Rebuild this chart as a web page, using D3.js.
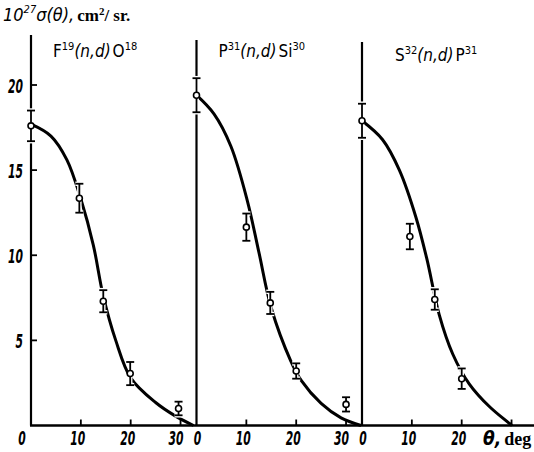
<!DOCTYPE html>
<meta charset="utf-8">
<head>
  <title>(n,d) angular distributions</title>
</head>
<style>
  body { margin: 0; background: #fff; }
  .num { font-family: "DejaVu Sans Condensed", "Liberation Sans", sans-serif; font-style: italic; font-weight: bold; font-size: 19px; }
  .lab { font-family: "DejaVu Sans Condensed", "Liberation Sans", sans-serif; font-size: 17px; }
  .serif { font-family: "Liberation Serif", "DejaVu Serif", serif; font-weight: bold; }
</style>
<body>
<script src="https://cdn.jsdelivr.net/npm/d3@7"></script>
<script>
var width = 534, height = 452;

// reactions (one panel each)
var targets = ["F", "P", "S"];
var targetMass = ["19", "31", "32"];
var products = ["O", "Si", "P"];
var productMass = ["18", "30", "31"];

// measured points: angle (deg), cross section (10^-27 cm^2/sr), error
var thetaF = [0, 9.7, 14.5, 19.9, 29.6];
var sigmaF = [17.6, 13.35, 7.3, 3.05, 1.0];
var errF = [0.9, 0.85, 0.65, 0.68, 0.4];

var thetaP = [0, 10, 14.8, 20, 30];
var sigmaP = [19.4, 11.65, 7.2, 3.2, 1.24];
var errP = [1.0, 0.8, 0.65, 0.45, 0.42];

var thetaS = [0, 9.6, 14.6, 20];
var sigmaS = [17.9, 11.1, 7.4, 2.75];
var errS = [1.0, 0.75, 0.6, 0.6];

// drawn curves
var curveThetaF = [0, 4, 7.2, 10, 12.5, 14.5, 17, 20, 25, 29, 32.6];
var curveSigmaF = [17.7, 17.0, 15.6, 13.3, 10.6, 7.6, 5.0, 2.8, 1.35, 0.55, 0];

var curveThetaP = [0, 3.5, 6.9, 10.2, 12.5, 15, 18.9, 21, 25, 29, 33];
var curveSigmaP = [19.4, 18.3, 16.4, 13.2, 10.2, 6.9, 3.8, 2.65, 1.3, 0.45, 0];

var curveThetaS = [0, 4.1, 7.5, 10.8, 13, 15.5, 18.2, 21.5, 25.6, 30.1];
var curveSigmaS = [17.9, 16.8, 15.0, 12.25, 9.8, 6.5, 4.2, 2.45, 1.1, 0];

// tick values
var yTicks = [5, 10, 15, 20];
var xTicks = [[10, 20, 30], [10, 20, 30], [10, 20, 30]];
var xTickLabels = [["0", "10", "20", "30"], ["0", "10", "20", "30"], ["0", "10", "20"]];

var points = [
  thetaF.map((t, i) => ({t: t, s: sigmaF[i], e: errF[i]})),
  thetaP.map((t, i) => ({t: t, s: sigmaP[i], e: errP[i]})),
  thetaS.map((t, i) => ({t: t, s: sigmaS[i], e: errS[i]}))
];
var curves = [
  curveThetaF.map((t, i) => [t, curveSigmaF[i]]),
  curveThetaP.map((t, i) => [t, curveSigmaP[i]]),
  curveThetaS.map((t, i) => [t, curveSigmaS[i]])
];

var left = 31, panelW = 165.5, base = 425.5;
var yScale = d3.scaleLinear().domain([0, 20]).range([base, 85]);

var svg = d3.select("body").append("svg")
    .attr("width", width)
    .attr("height", height);

// baseline across all panels
svg.append("line")
    .attr("x1", left - 1).attr("x2", width)
    .attr("y1", base).attr("y2", base)
    .attr("stroke", "#000").attr("stroke-width", 2.5);

var labelDx = [22, 22, 33];

targets.forEach(function(tg, k) {
  var ox = left + k * panelW;
  var x = d3.scaleLinear().domain([0, 33.2]).range([ox, ox + panelW]);
  var g = svg.append("g");

  // vertical axis
  g.append("line")
      .attr("x1", ox).attr("x2", ox)
      .attr("y1", k === 0 ? 35 : 38 + k * 2).attr("y2", base)
      .attr("stroke", "#000").attr("stroke-width", 2.2);

  // x ticks
  g.selectAll(".xt").data(xTicks[k]).enter().append("line")
      .attr("x1", d => x(d)).attr("x2", d => x(d))
      .attr("y1", base).attr("y2", base - 6)
      .attr("stroke", "#000").attr("stroke-width", 1.8);

  // x tick labels
  g.selectAll(".xl").data(xTickLabels[k]).enter().append("text")
      .attr("class", "num")
      .attr("text-anchor", "middle")
      .attr("x", (d, i) => i === 0 ? (k === 0 ? ox - 9 : ox + 1) : x(+d) - (d === "30" ? 4.5 : 3))
      .attr("y", 445)
      .attr("textLength", d => d.length * 7.5)
      .attr("lengthAdjust", "spacingAndGlyphs")
      .text(d => d);

  // curve
  g.append("path")
      .datum(curves[k])
      .attr("fill", "none")
      .attr("stroke", "#000")
      .attr("stroke-width", 3)
      .attr("d", d3.line().x(d => x(d[0])).y(d => yScale(d[1])).curve(d3.curveCatmullRom.alpha(0.5)));

  // error bars (white halo first, breaks the curve like the print)
  ["#fff", "#000"].forEach(function(col, pass) {
    var sw = pass === 0 ? 4.5 : 1.8;
    var eb = g.selectAll(".eb" + pass).data(points[k]).enter().append("g");
    eb.append("line")
        .attr("x1", d => x(d.t)).attr("x2", d => x(d.t))
        .attr("y1", d => yScale(d.s + d.e)).attr("y2", d => yScale(d.s - d.e))
        .attr("stroke", col).attr("stroke-width", sw);
    eb.append("line")
        .attr("x1", d => x(d.t) - 4).attr("x2", d => x(d.t) + 4)
        .attr("y1", d => yScale(d.s + d.e)).attr("y2", d => yScale(d.s + d.e))
        .attr("stroke", col).attr("stroke-width", sw);
    eb.append("line")
        .attr("x1", d => x(d.t) - 4).attr("x2", d => x(d.t) + 4)
        .attr("y1", d => yScale(d.s - d.e)).attr("y2", d => yScale(d.s - d.e))
        .attr("stroke", col).attr("stroke-width", sw);
  });

  // open circles
  g.selectAll(".dot").data(points[k]).enter().append("circle")
      .attr("cx", d => x(d.t))
      .attr("cy", d => yScale(d.s))
      .attr("r", 3)
      .attr("fill", "#fff")
      .attr("stroke", "#000")
      .attr("stroke-width", 1.6);

  // reaction label
  var lt = g.append("text")
      .attr("class", "lab")
      .attr("x", ox + labelDx[k])
      .attr("y", k === 2 ? 61 : 57);
  lt.append("tspan").text(tg);
  lt.append("tspan").attr("dy", -7).attr("font-size", 11).text(targetMass[k]);
  lt.append("tspan").attr("dy", 7).attr("font-style", "italic").text("(n,d)");
  lt.append("tspan").attr("dx", 2).text(products[k]);
  lt.append("tspan").attr("dy", -7).attr("font-size", 11).text(productMass[k]);
});

// y ticks on first panel
svg.selectAll(".yt").data(yTicks).enter().append("line")
    .attr("x1", left).attr("x2", left + 6)
    .attr("y1", d => yScale(d)).attr("y2", d => yScale(d))
    .attr("stroke", "#000").attr("stroke-width", 1.8);

svg.selectAll(".yl").data(yTicks).enter().append("text")
    .attr("class", "num")
    .attr("text-anchor", "end")
    .attr("x", 23)
    .attr("y", d => yScale(d))
    .attr("dy", "0.4em")
    .attr("textLength", d => String(d).length * 7.5)
    .attr("lengthAdjust", "spacingAndGlyphs")
    .text(d => d);

// axis title (y)
var yt = svg.append("text").attr("x", 3).attr("y", 21);
yt.append("tspan").attr("class", "num").style("font-size", "18px").style("font-weight", "normal").text("10");
yt.append("tspan").attr("class", "num").style("font-size", "11px").style("font-weight", "normal").attr("dy", -8).text("27");
yt.append("tspan").attr("class", "num").style("font-size", "18px").style("font-weight", "normal").attr("dy", 8).text("σ(θ),");
yt.append("tspan").attr("class", "serif").style("font-size", "17px").attr("dx", 3).text("cm");
yt.append("tspan").attr("class", "serif").style("font-size", "11px").attr("dy", -6).text("2");
yt.append("tspan").attr("class", "serif").style("font-size", "17px").attr("dy", 6).text("/ sr.");

// axis title (x)
var xt = svg.append("text").attr("x", 483).attr("y", 445);
xt.append("tspan").attr("class", "num").text("θ,");
xt.append("tspan").attr("class", "serif").style("font-size", "18px").attr("dx", 3).text("deg");
</script>
</body>
